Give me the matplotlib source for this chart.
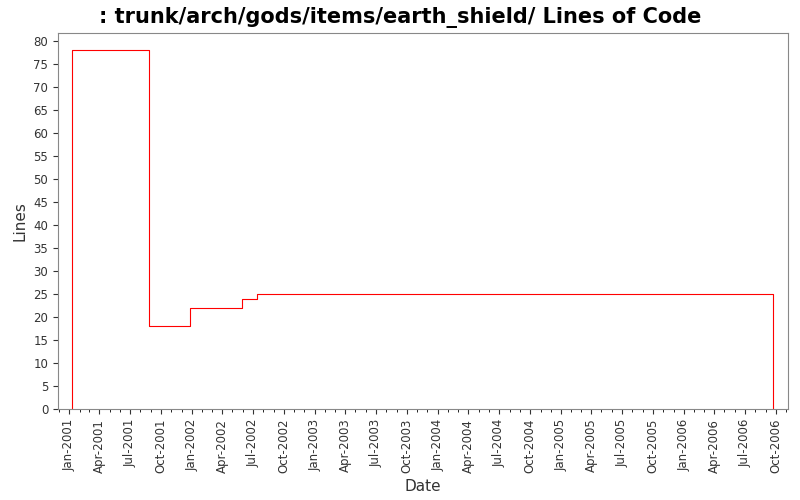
import matplotlib
matplotlib.use("Agg")
import matplotlib.pyplot as plt
import matplotlib.dates as mdates
import datetime as dt

dates = ["2001-01-10","2001-08-26","2001-12-26","2002-05-30","2002-07-12","2006-09-22"]
lines = [78, 18, 22, 24, 25, 0]

d = [dt.datetime.fromisoformat(s) for s in dates]
fig = plt.figure(figsize=(8,5), dpi=100)
ax = fig.add_axes([0.0725, 0.182, 0.9125, 0.752])
ax.step([d[0]] + d, [0] + lines, where="post", color="red", lw=0.8)
ax.set_xlim(dt.datetime(2000,11,29), dt.datetime(2006,11,6))
ax.set_ylim(0, 81.7)
ax.set_yticks(range(0, 81, 5))
ax.xaxis.set_major_locator(mdates.MonthLocator(bymonth=[1,4,7,10]))
ax.xaxis.set_major_formatter(mdates.DateFormatter("%b-%Y"))
ax.xaxis.set_minor_locator(mdates.MonthLocator())
plt.setp(ax.get_xticklabels(), rotation=90)
ax.tick_params(labelsize=8.5, colors="#333333")
for s in ax.spines.values():
    s.set_color("#888888")
ax.set_xlabel("Date", fontsize=11, color="#333333")
ax.set_ylabel("Lines", fontsize=11, color="#333333")
fig.suptitle(": trunk/arch/gods/items/earth_shield/ Lines of Code", fontsize=15, fontweight="bold", y=0.985)
fig.savefig("out.png")
